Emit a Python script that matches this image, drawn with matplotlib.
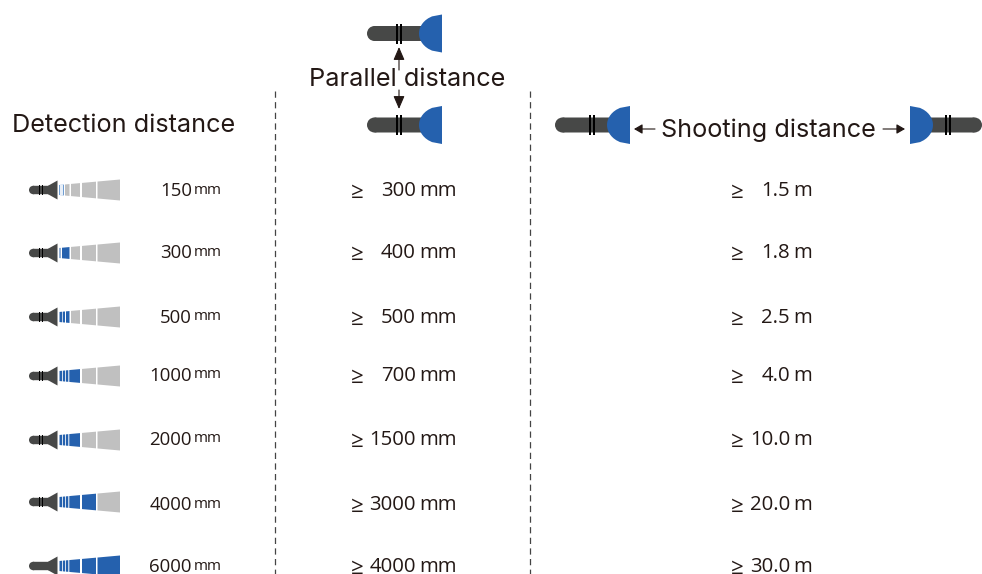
import matplotlib
matplotlib.use("Agg")
import matplotlib.pyplot as plt
from matplotlib.patches import Polygon, Rectangle, Ellipse

plt.rcParams['font.family'] = ['Open Sans', 'DejaVu Sans']

detection = ["150", "300", "500", "1000", "2000", "4000", "6000"]
parallel = ["300", "400", "500", "700", "1500", "3000", "4000"]
shooting = ["1.5", "1.8", "2.5", "4.0", "10.0", "20.0", "30.0"]
# how far the blue reaches in each beam
lit_segments = [0, 1, 2, 3, 3, 4, 5]
row_y = [190, 253, 317, 376, 440, 502, 566]
text_y = [190, 252, 317, 375, 439, 504, 566]

BLUE = "#2561ae"
GREY = "#c0c0c0"
DARK = "#474847"
TEXT = "#231815"

fig = plt.figure(figsize=(9.82, 5.74), dpi=100)
ax = fig.add_axes([0, 0, 1, 1])
ax.set_xlim(0, 982)
ax.set_ylim(574, 0)
ax.axis("off")


def big_torch(x_lens, y, rings, flip=False, length=75):
    # x_lens is the flat face of the lens, body runs away from it
    s = -1 if flip else 1
    x0 = x_lens - s * length
    ax.add_patch(Ellipse((x0 + s * 7.5, y), 15, 15, fc=DARK, ec="none"))
    ax.add_patch(Rectangle((min(x0 + s * 7.5, x_lens - s * 15), y - 7.5), length - 22.5, 15,
                           fc=DARK, ec="none", snap=False))
    for dx in rings:
        ax.add_patch(Rectangle((x_lens - s * dx - 0.8, y - 10), 1.6, 20, fc="black", ec="none", zorder=3))
    pts = [(x_lens, y - 19)]
    for i in range(21):
        a = -1 + i / 10
        pts.append((x_lens - s * 23 * (1 - a * a) ** 0.5, y + 19 * a))
    pts.append((x_lens, y + 19))
    ax.add_patch(Polygon(pts, fc=BLUE, ec="none", zorder=4))


def beam_poly(x1, x2, y, color):
    h1 = 5 + (x1 - 59) * 5.5 / 61
    h2 = 5 + (x2 - 59) * 5.5 / 61
    ax.add_patch(Polygon([(x1, y - h1), (x2, y - h2), (x2, y + h2), (x1, y + h1)], fc=color, ec="none"))


def small_torch(y, lit, has_rings=True):
    ax.add_patch(Ellipse((33.2, y), 8.4, 8.4, fc=DARK, ec="none"))
    ax.add_patch(Rectangle((33, y - 4.2), 16, 8.4, fc=DARK, ec="none", snap=False))
    ax.add_patch(Polygon([(48, y - 4.2), (53, y - 7), (57.5, y - 9.5), (57.5, y + 9.5), (53, y + 7), (48, y + 4.2)],
                         fc=DARK, ec="none"))
    if has_rings:
        for x in (39.3, 42.7):
            ax.add_patch(Rectangle((x - 0.7, y - 5), 1.4, 10, fc="black", ec="none", zorder=3))
    if lit == 0:
        beam_poly(59, 64, y, "#6f9ed3")
        beam_poly(60, 63, y, "#e8eff8")
        beam_poly(65, 69.5, y, GREY)
        beam_poly(71, 80, y, GREY)
    elif lit == 1:
        beam_poly(59.5, 60.5, y, BLUE)
        beam_poly(62, 69.5, y, BLUE)
        beam_poly(71, 80, y, GREY)
    elif lit == 2:
        for x1, x2 in ((59.5, 62.3), (63, 65), (66, 69.5)):
            beam_poly(x1, x2, y, BLUE)
        beam_poly(71, 80, y, GREY)
    else:
        for x1, x2 in ((59.5, 62), (62.8, 65.2), (66, 68.3), (69.3, 80)):
            beam_poly(x1, x2, y, BLUE)
    beam_poly(82, 96, y, BLUE if lit >= 4 else GREY)
    beam_poly(97.5, 120, y, BLUE if lit >= 5 else GREY)


def arrow(x1, y1, x2, y2, head_len, head_half):
    style = "-|>,head_width=%.2f,head_length=%.2f" % (head_half * 0.72 / 10, head_len * 0.72 / 10)
    ax.annotate("", xy=(x2, y2), xytext=(x1, y1),
                arrowprops=dict(arrowstyle=style, color=TEXT, lw=0.8, shrinkA=0, shrinkB=0))


ax.plot([275, 275], [91, 574], color="#444444", lw=0.9, dashes=(5, 3.5))
ax.plot([530, 530], [91, 574], color="#444444", lw=0.9, dashes=(5, 3.5))

ax.text(12, 126, "Detection distance", fontsize=18.2, family="Inter", color=TEXT, va="center", ha="left")
ax.text(309, 80, "Parallel distance", fontsize=18.2, family="Inter", color=TEXT, va="center", ha="left")
ax.text(661, 130, "Shooting distance", fontsize=18.2, family="Inter", color=TEXT, va="center", ha="left")

big_torch(442, 33.5, (45, 41))
big_torch(442, 125, (45, 41))
big_torch(630, 125, (40, 36))
big_torch(910, 125, (40, 36), flip=True, length=72)
arrow(399, 70, 399, 47, 11, 4.7)
arrow(399, 90, 399, 109, 11, 4.7)
arrow(655, 129, 634, 129, 7, 4)
arrow(883, 129, 905, 129, 7, 4)

for i, y in enumerate(row_y):
    small_torch(y, lit_segments[i], i < len(row_y) - 1)
    t = text_y[i] + 1
    ax.text(192, t, detection[i], fontsize=13.4, color=TEXT, ha="right", va="center")
    ax.text(194, t - 1, "mm", fontsize=10.8, color=TEXT, ha="left", va="center")
    ax.text(351, t + 1, "\u2265", fontsize=16, color=TEXT, ha="left", va="center")
    ax.text(416, t, parallel[i], fontsize=14.7, color=TEXT, ha="right", va="center")
    ax.text(419, t, "mm", fontsize=14.7, color=TEXT, ha="left", va="center")
    ax.text(731, t + 1, "\u2265", fontsize=16, color=TEXT, ha="left", va="center")
    ax.text(790, t, shooting[i], fontsize=14.7, color=TEXT, ha="right", va="center")
    ax.text(793, t, "m", fontsize=14.7, color=TEXT, ha="left", va="center")

fig.savefig("out.png", dpi=100)
